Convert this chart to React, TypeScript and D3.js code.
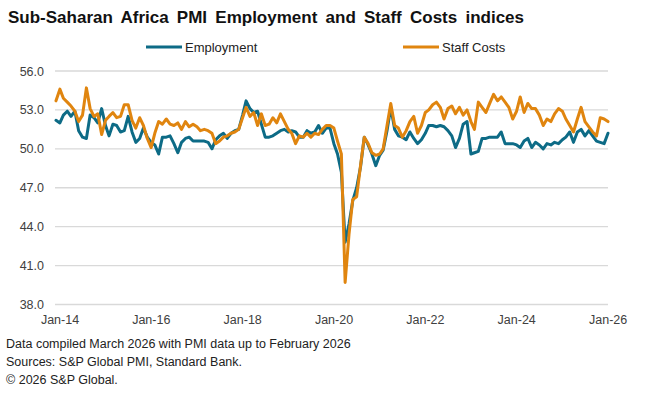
import React, { useRef, useEffect } from "react";
import * as d3 from "d3";

// monthly index values, Jan-2014 .. Feb-2026
const startMonth = new Date(2014, 0, 1);

const employment = [
  52.2, 52.0, 52.6, 52.9, 52.5, 52.9, 51.4, 50.9, 50.8, 52.6, 52.4, 52.0,
  53.1, 51.8, 51.0, 51.9, 51.8, 51.3, 51.4, 52.5, 51.3, 50.5, 50.8, 51.6,
  50.9, 50.5, 50.3, 49.6, 50.9, 50.9, 51.0, 50.4, 49.7, 50.5, 50.8, 50.9,
  50.6, 50.6, 50.6, 50.6, 50.5, 50.0, 50.7, 51.0, 51.2, 50.8, 51.2, 51.4,
  51.5, 52.6, 53.7, 53.1, 52.8, 52.9, 51.9, 50.9, 50.9, 51.0, 51.2, 51.4,
  51.5, 51.3, 51.4, 51.3, 50.9, 50.9, 51.4, 51.2, 51.3, 51.8, 51.2, 51.6,
  51.6, 50.4, 49.6, 48.2, 42.8, 44.2, 46.0, 47.0, 48.6, 50.9, 50.3, 49.6,
  48.7, 49.5, 49.9, 51.4, 53.2, 51.5, 51.0, 50.9, 50.7, 51.3, 50.8, 50.4,
  50.7, 51.2, 51.8, 51.8, 51.7, 51.8, 51.7, 51.4, 51.0, 50.1, 50.8, 51.9,
  52.1, 49.6, 49.7, 49.8, 50.8, 50.8, 50.9, 50.9, 50.9, 51.3, 50.4, 50.4,
  50.4, 50.3, 50.1, 50.6, 50.8, 50.1, 50.5, 50.3, 50.0, 50.4, 50.3, 50.5,
  50.4, 50.7, 50.9, 51.3, 50.5, 51.3, 51.5, 51.0, 51.4, 51.0, 50.6, 50.5,
  50.4, 51.2,
];

const staffCosts = [
  53.7, 54.6, 53.9, 53.6, 53.3, 52.9, 52.1, 52.6, 54.7, 53.1, 52.5, 52.7,
  51.1, 52.2, 52.5, 52.8, 52.4, 52.5, 53.4, 53.4, 52.2, 51.6, 52.4, 51.8,
  50.8, 50.1, 51.2, 52.1, 51.9, 52.3, 51.9, 51.8, 52.0, 51.5, 52.1, 51.7,
  51.9, 51.7, 51.4, 51.5, 51.4, 51.2, 50.4, 50.6, 50.9, 51.0, 51.2, 51.3,
  51.5, 52.4, 53.2, 52.5, 52.8, 51.8, 52.7, 51.8, 51.9, 52.4, 52.0, 52.7,
  52.1, 51.5, 51.2, 50.4, 51.0, 50.9, 51.2, 50.9, 51.2, 51.1, 51.5, 51.8,
  51.8, 51.6, 50.6, 49.6, 39.7, 43.4, 46.1, 46.3, 48.7, 50.9, 50.4, 49.7,
  49.5, 49.6, 50.0, 51.8, 53.5, 51.8, 51.6, 50.9, 51.4, 52.1, 52.5, 51.2,
  51.8, 52.8, 53.0, 53.4, 53.6, 53.2, 52.3, 53.1, 53.3, 52.7, 53.2, 52.6,
  53.0, 52.1, 51.5, 53.6, 53.2, 52.8, 53.5, 54.2, 53.7, 54.0, 53.6, 53.2,
  52.3, 52.9, 54.0, 52.8, 53.5, 53.1, 53.1, 52.6, 51.8, 52.3, 52.1, 52.7,
  53.1, 52.9, 52.3, 51.8, 51.3, 52.3, 53.2, 52.1, 51.7, 51.3, 51.0, 52.4,
  52.3, 52.1,
];

const yTicks = [38, 41, 44, 47, 50, 53, 56];
const xTickYears = [2014, 2016, 2018, 2020, 2022, 2024, 2026];

const seriesNames = ["Employment", "Staff Costs"];
const seriesColors = ["#0d6b86", "#e0850f"];

const footnotes = [
  "Data compiled March 2026 with PMI data up to February 2026",
  "Sources: S&P Global PMI, Standard Bank.",
  "\u00a9 2026 S&P Global.",
];

const font = "Arial, 'Liberation Sans', sans-serif";

const App = () => {
  const svgRef = useRef(null);
  const width = 645;
  const height = 399;

  useEffect(() => {
    const svg = d3.select(svgRef.current);
    svg.selectAll("*").remove();

    const dates = employment.map((_, i) => d3.timeMonth.offset(startMonth, i));

    const x = d3.scaleTime()
      .domain([dates[0], dates[dates.length - 1]])
      .range([56, 608]);
    const y = d3.scaleLinear().domain([38, 56]).range([304.5, 71]);

    svg.append("rect").attr("width", width).attr("height", height).attr("fill", "#fff");

    // title
    svg.append("text")
      .attr("x", 8)
      .attr("y", 23)
      .attr("font-family", font)
      .attr("font-weight", "bold")
      .attr("font-size", 17)
      .attr("word-spacing", 3.5)
      .attr("fill", "#111")
      .text("Sub-Saharan Africa PMI Employment and Staff Costs indices");

    // legend
    const legendX = [146, 403];
    seriesNames.forEach((name, i) => {
      svg.append("line")
        .attr("x1", legendX[i]).attr("x2", legendX[i] + 36)
        .attr("y1", 47).attr("y2", 47)
        .attr("stroke", seriesColors[i])
        .attr("stroke-width", 3);
      svg.append("text")
        .attr("x", legendX[i] + 39)
        .attr("y", 51.5)
        .attr("font-family", font)
        .attr("font-size", 13)
        .attr("fill", "#222")
        .text(name);
    });

    // gridlines + y labels
    yTicks.forEach((t) => {
      svg.append("line")
        .attr("x1", 55).attr("x2", 608)
        .attr("y1", y(t)).attr("y2", y(t))
        .attr("stroke", "#d9d9d9")
        .attr("stroke-width", 1.3);
      svg.append("text")
        .attr("x", 44)
        .attr("y", y(t) + 4.5)
        .attr("text-anchor", "end")
        .attr("font-family", font)
        .attr("font-size", 12.5)
        .attr("fill", "#404040")
        .text(t.toFixed(1));
    });

    // x labels
    const fmt = d3.timeFormat("%b-%y");
    xTickYears.forEach((yr) => {
      const d = new Date(yr, 0, 1);
      svg.append("text")
        .attr("x", x(d) + 4)
        .attr("y", 324)
        .attr("text-anchor", "middle")
        .attr("font-family", font)
        .attr("font-size", 12.5)
        .attr("fill", "#404040")
        .text(fmt(d));
    });

    // lines
    const line = d3.line()
      .x((d, i) => x(dates[i]))
      .y((d) => y(d));

    [employment, staffCosts].forEach((vals, i) => {
      svg.append("path")
        .datum(vals)
        .attr("d", line)
        .attr("fill", "none")
        .attr("stroke", seriesColors[i])
        .attr("stroke-width", 3)
        .attr("stroke-linejoin", "round")
        .attr("stroke-linecap", "round");
    });

    // footnotes
    footnotes.forEach((txt, i) => {
      svg.append("text")
        .attr("x", 6)
        .attr("y", 348 + i * 18)
        .attr("font-family", font)
        .attr("font-size", 12.5)
        .attr("fill", "#222")
        .text(txt);
    });
  }, []);

  return (
    <svg
      ref={svgRef}
      width={width}
      height={height}
      style={{ position: "absolute", left: 0, top: 0 }}
    ></svg>
  );
};

export default App;
